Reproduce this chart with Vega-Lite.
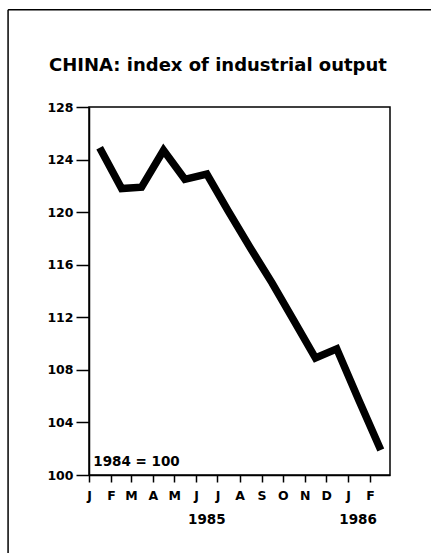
{
  "$schema": "https://vega.github.io/schema/vega-lite/v6.json",
  "width": 301,
  "height": 368,
  "autosize": "none",
  "padding": {"left": 89, "top": 107, "right": 41, "bottom": 78},
  "background": "white",
  "title": {
    "text": "CHINA: index of industrial output",
    "anchor": "start",
    "frame": "group",
    "dx": -40,
    "offset": -66,
    "font": "DejaVu Sans",
    "fontSize": 18,
    "fontWeight": "bold",
    "color": "black"
  },
  "config": {
    "view": {"stroke": "black", "strokeWidth": 1.5},
    "font": "DejaVu Sans",
    "axis": {
      "labelFont": "DejaVu Sans",
      "labelFontSize": 12.5,
      "labelFontWeight": "bold",
      "labelColor": "black",
      "domainColor": "black",
      "domainWidth": 1.5,
      "tickColor": "black",
      "tickWidth": 1.5,
      "grid": false,
      "title": null
    }
  },
  "datasets": {
    "output": [
      {"date": "1985-01-16", "index": 124.9},
      {"date": "1985-02-16", "index": 121.8},
      {"date": "1985-03-16", "index": 121.9},
      {"date": "1985-04-16", "index": 124.7},
      {"date": "1985-05-16", "index": 122.5},
      {"date": "1985-06-16", "index": 122.9},
      {"date": "1985-07-16", "index": 120.1},
      {"date": "1985-08-16", "index": 117.3},
      {"date": "1985-09-16", "index": 114.6},
      {"date": "1985-10-16", "index": 111.8},
      {"date": "1985-11-16", "index": 108.9},
      {"date": "1985-12-16", "index": 109.6},
      {"date": "1986-01-16", "index": 105.7},
      {"date": "1986-02-16", "index": 101.9}
    ],
    "years": [
      {"date": "1985-06-16", "year": "1985"},
      {"date": "1986-01-15", "year": "1986"}
    ],
    "note": [{"text": "1984 = 100"}]
  },
  "layer": [
    {
      "data": {"name": "output"},
      "mark": {"type": "line", "color": "black", "strokeWidth": 7.5, "strokeCap": "butt", "strokeJoin": "miter"},
      "encoding": {
        "x": {
          "field": "date",
          "type": "temporal",
          "scale": {
            "type": "utc",
            "domain": [473385600000, 510019200000]
          },
          "axis": {
            "tickCount": {"interval": "month", "step": 1},
            "labelExpr": "datum.value > 509000000000 ? '' : substring(utcFormat(datum.value, '%b'), 0, 1)",
            "tickOpacity": {"condition": {"test": "datum.value > 509000000000", "value": 0}, "value": 1},
            "tickSize": 7,
            "labelPadding": 7,
            "labelFlush": false,
            "labelOverlap": false,
            "labelSeparation": 0
          }
        },
        "y": {
          "field": "index",
          "type": "quantitative",
          "scale": {"domain": [100, 128], "nice": false, "zero": false},
          "axis": {
            "values": [100, 104, 108, 112, 116, 120, 124, 128],
            "tickSize": 13,
            "labelPadding": 3,
            "labelFlush": false,
            "labelOverlap": false
          }
        }
      }
    },
    {
      "data": {"name": "note"},
      "mark": {"type": "text", "align": "left", "baseline": "middle", "font": "DejaVu Sans", "fontSize": 13.5, "fontWeight": "bold", "color": "black"},
      "encoding": {
        "x": {"datum": {"year": 1985, "month": 1, "date": 7, "utc": true}, "type": "temporal"},
        "y": {"datum": 101.0, "type": "quantitative"},
        "text": {"field": "text"}
      }
    },
    {
      "data": {"name": "years"},
      "mark": {"type": "text", "align": "center", "baseline": "middle", "font": "DejaVu Sans", "fontSize": 13.5, "fontWeight": "bold", "color": "black"},
      "encoding": {
        "x": {"field": "date", "type": "temporal"},
        "y": {"datum": 96.6, "type": "quantitative"},
        "text": {"field": "year"}
      }
    },
    {
      "data": {"name": "note"},
      "mark": {"type": "rule", "color": "black", "strokeWidth": 1.5},
      "encoding": {
        "x": {"datum": {"year": 1984, "month": 9, "date": 9, "utc": true}, "type": "temporal"},
        "y": {"datum": 93, "type": "quantitative"},
        "y2": {"datum": 135.4}
      }
    },
    {
      "data": {"name": "note"},
      "mark": {"type": "rule", "color": "black", "strokeWidth": 1.5},
      "encoding": {
        "y": {"datum": 135.4, "type": "quantitative"},
        "x": {"datum": {"year": 1984, "month": 9, "date": 9, "utc": true}, "type": "temporal"},
        "x2": {"datum": {"year": 1986, "month": 8, "date": 1, "utc": true}}
      }
    }
  ]
}
